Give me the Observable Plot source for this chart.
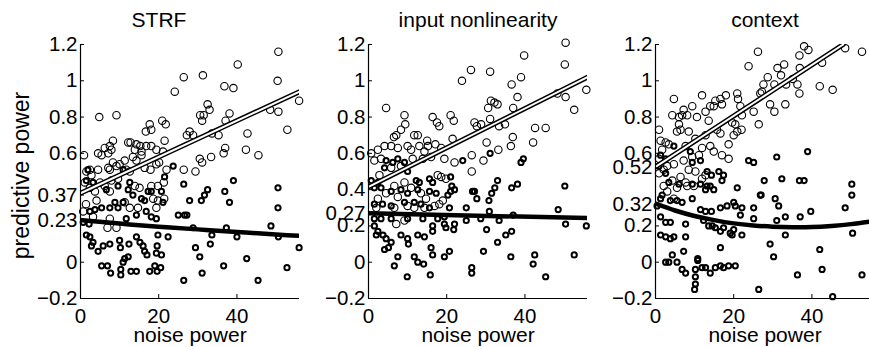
<!DOCTYPE html>
<html><head><meta charset="utf-8">
<script src="https://cdn.jsdelivr.net/npm/d3@7"></script>
<script src="https://cdn.jsdelivr.net/npm/@observablehq/plot@0.6"></script>
<style>
body{margin:0;background:#fff;}
#wrap{position:relative;width:869px;height:347px;overflow:hidden;background:#fff;font-family:"Liberation Sans",Arial,sans-serif;}
.panel{position:absolute;top:0;width:300px;height:347px;}
</style></head><body><div id="wrap"></div>
<script>
// ---- data (x = noise power, y = predictive power) ----
const panelTitles = ["STRF", "input nonlinearity", "context"];
const xTicks = [0, 20, 40];
const strfYTicks = [-0.2, 0, 0.23, 0.37, 0.6, 0.8, 1, 1.2];
const inlYTicks = [-0.2, 0, 0.2, 0.27, 0.4, 0.6, 0.8, 1, 1.2];
const ctxYTicks = [-0.2, 0, 0.2, 0.32, 0.52, 0.6, 0.8, 1, 1.2];

const strfOpen = [[26.4,1.02],[24.1,0.94],[4.8,0.80],[9.2,0.81],[17.7,0.76],[18.1,0.73],[16.7,0.72],[20.9,0.78],[21.8,0.76],[12.2,0.66],[12.8,0.66],[14.3,0.65],[15.3,0.64],[15.6,0.61],[13.9,0.62],[8.3,0.67],[7.5,0.64],[6.2,0.63],[4.5,0.60],[5.4,0.59],[7.1,0.60],[0.9,0.59],[7.9,0.62],[16.8,0.64],[18.1,0.64],[19.4,0.62],[21.5,0.67],[21.1,0.61],[15.6,0.59],[14.3,0.56],[13.4,0.58],[11.3,0.56],[10.0,0.54],[8.3,0.55],[7.1,0.52],[7.5,0.51],[4.5,0.51],[2.4,0.51],[1.5,0.50],[2.8,0.48],[9.2,0.53],[11.7,0.51],[16.4,0.52],[17.9,0.51],[19.4,0.54],[20.1,0.55],[22.0,0.51],[12.6,0.50],[1.1,0.44],[5.0,0.44],[7.9,0.45],[9.6,0.46],[13.9,0.42],[15.1,0.41],[18.1,0.42],[19.8,0.42],[21.3,0.44],[18.6,0.35],[19.8,0.34],[2.4,0.41],[3.7,0.39],[6.2,0.42],[7.5,0.39],[4.1,0.34],[1.4,0.32],[11.3,0.33],[12.6,0.30],[14.7,0.30],[7.5,0.24],[3.2,0.25],[0.7,0.28],[6.9,0.19],[9.2,0.19],[19.4,0.30],[21.4,0.35],
  [50.6,1.16],[40.2,1.09],[31.3,1.03],[36.8,0.97],[39.1,0.96],[50.4,1.00],[55.9,0.89],[48.5,0.84],[50.6,0.83],[52.9,0.73],[32.5,0.87],[33.0,0.84],[30.6,0.81],[31.5,0.81],[31.1,0.78],[38.1,0.82],[37.1,0.78],[27.9,0.72],[27.2,0.70],[28.8,0.70],[33.6,0.71],[35.3,0.70],[42.7,0.71],[37.0,0.63],[36.6,0.60],[42.3,0.62],[45.5,0.59],[30.5,0.57],[31.1,0.55],[33.4,0.58],[26.4,0.51],[29.4,0.50]];
const strfBold = [[1.9,0.51],[1.5,0.45],[3.2,0.44],[6.6,0.40],[9.6,0.42],[10.9,0.51],[12.6,0.44],[12.2,0.40],[13.4,0.37],[15.6,0.35],[16.4,0.34],[17.3,0.39],[18.1,0.39],[20.7,0.39],[21.1,0.33],[16.8,0.28],[18.1,0.25],[19.4,0.24],[14.3,0.26],[10.9,0.33],[8.8,0.33],[7.5,0.30],[5.4,0.30],[3.7,0.29],[2.4,0.28],[0.7,0.22],[2.2,0.21],[9.6,0.30],[11.7,0.24],[1.5,0.15],[2.4,0.14],[3.2,0.11],[2.8,0.09],[4.5,0.06],[5.8,0.09],[7.5,0.10],[10.0,0.12],[10.2,0.08],[12.4,0.10],[14.3,0.14],[15.2,0.11],[16.0,0.09],[16.4,0.06],[17.0,0.04],[19.6,0.09],[19.4,0.05],[20.7,0.04],[11.3,0.02],[10.9,0.00],[12.2,0.03],[5.4,-0.02],[6.9,-0.02],[7.7,-0.06],[10.3,-0.04],[10.3,-0.07],[12.9,-0.05],[14.3,-0.05],[17.7,-0.05],[19.0,-0.02],[19.6,-0.05],[20.5,-0.03],[26.4,-0.10],[23.7,0.53],[26.4,0.43],[21.5,0.47],[25.0,0.26],[26.6,0.26],[22.4,0.14],[19.8,0.15],
  [27.9,0.34],[30.9,0.34],[31.7,0.37],[32.5,0.40],[36.9,0.39],[38.1,0.33],[39.1,0.45],[50.5,0.41],[50.5,0.30],[27.2,0.26],[28.8,0.19],[33.6,0.15],[37.3,0.19],[40.0,0.14],[48.7,0.20],[50.6,0.14],[55.9,0.08],[29.4,0.08],[30.5,0.03],[33.2,0.10],[36.6,-0.02],[42.5,0.02],[31.1,-0.06],[45.4,-0.10],[52.8,-0.03]];
const strfUpperFit = [[0,0.38],[56,0.94]];
const strfLowerFit = [[0,0.232],[10,0.213],[20,0.196],[30,0.181],[40,0.167],[50,0.153],[56,0.146]];

const inlOpen = [[26.2,1.06],[23.9,1.00],[4.5,0.85],[9.2,0.81],[9.4,0.76],[16.4,0.80],[17.5,0.77],[18.1,0.75],[21.0,0.81],[21.8,0.78],[8.3,0.73],[7.1,0.70],[6.5,0.69],[11.7,0.70],[12.6,0.70],[15.0,0.67],[15.2,0.64],[17.1,0.65],[21.5,0.68],[4.1,0.64],[5.8,0.64],[7.5,0.63],[0.7,0.60],[2.4,0.62],[1.5,0.56],[3.2,0.57],[10.0,0.64],[10.9,0.62],[13.0,0.64],[14.3,0.61],[13.9,0.57],[11.3,0.57],[16.0,0.58],[18.6,0.63],[19.4,0.57],[22.0,0.55],[26.4,0.59],[26.4,0.50],[8.3,0.53],[5.8,0.52],[2.8,0.48],[17.7,0.48],[18.6,0.47],[19.8,0.46],[9.2,0.44],[6.6,0.42],[10.9,0.41],[13.4,0.38],[14.7,0.35],[4.5,0.38],[2.4,0.35],[7.5,0.36],[10.0,0.31],[16.9,0.31],[18.1,0.32],[19.0,0.34],[6.6,0.30],[11.7,0.30],[14.3,0.30],[7.1,0.21],[9.2,0.23],[2.0,0.30],
  [50.4,1.21],[39.8,1.14],[50.2,1.09],[31.1,1.05],[36.6,0.98],[39.0,1.02],[38.1,0.91],[37.0,0.85],[55.7,0.95],[48.3,0.93],[50.4,0.91],[52.6,0.84],[31.3,0.89],[32.2,0.88],[33.0,0.87],[30.6,0.85],[31.1,0.79],[27.1,0.77],[27.7,0.75],[28.8,0.76],[33.4,0.75],[34.9,0.76],[42.6,0.74],[45.3,0.74],[36.9,0.69],[36.4,0.64],[42.1,0.66],[30.2,0.66],[33.2,0.62],[29.4,0.56]];
const inlBold = [[0.7,0.45],[2.4,0.44],[4.1,0.52],[4.5,0.56],[6.2,0.55],[7.5,0.57],[9.2,0.55],[10.0,0.50],[12.2,0.45],[13.0,0.44],[15.6,0.46],[16.4,0.44],[21.0,0.47],[21.3,0.42],[21.0,0.39],[22.0,0.40],[24.1,0.56],[26.6,0.39],[1.5,0.41],[3.2,0.41],[5.8,0.39],[8.3,0.40],[10.0,0.38],[12.6,0.40],[11.7,0.33],[15.6,0.39],[17.3,0.38],[20.3,0.37],[1.5,0.32],[3.6,0.32],[5.8,0.31],[9.2,0.33],[13.4,0.32],[15.6,0.30],[20.7,0.30],[25.0,0.30],[1.5,0.24],[3.2,0.24],[5.8,0.24],[10.0,0.24],[13.9,0.24],[17.7,0.24],[19.4,0.25],[25.0,0.23],[1.5,0.20],[2.4,0.17],[2.0,0.15],[3.7,0.15],[4.5,0.13],[5.8,0.11],[8.3,0.15],[10.0,0.13],[10.2,0.10],[12.6,0.15],[14.3,0.14],[16.4,0.20],[16.4,0.17],[19.4,0.21],[19.8,0.19],[21.8,0.18],[22.0,0.21],[4.1,0.07],[5.1,0.08],[7.5,0.03],[6.6,-0.02],[11.7,0.03],[12.6,0.00],[14.1,-0.01],[16.0,0.08],[16.4,0.04],[19.4,0.03],[20.7,0.06],[9.9,-0.08],[15.8,-0.07],[26.4,-0.03],[26.4,-0.06],
  [31.1,0.60],[39.0,0.55],[39.6,0.57],[50.2,0.42],[33.0,0.45],[32.3,0.41],[31.5,0.38],[27.1,0.39],[27.7,0.35],[30.8,0.34],[36.6,0.41],[38.1,0.43],[30.9,0.28],[48.5,0.29],[50.4,0.21],[55.7,0.20],[28.7,0.24],[33.4,0.23],[37.0,0.26],[30.2,0.18],[35.1,0.15],[36.6,0.17],[33.0,0.11],[29.4,0.06],[36.4,0.03],[42.5,0.04],[42.1,-0.01],[52.6,0.04],[45.3,-0.08]];
const inlUpperFit = [[0,0.415],[56,1.02]];
const inlLowerFit = [[0,0.27],[56,0.243]];

const ctxOpen = [[26.2,1.16],[23.8,1.08],[4.7,0.90],[11.9,0.92],[7.2,0.84],[4.3,0.81],[6.0,0.80],[6.8,0.81],[8.1,0.81],[9.4,0.86],[10.6,0.80],[12.8,0.83],[13.6,0.78],[14.0,0.86],[14.9,0.86],[15.3,0.89],[16.6,0.90],[17.0,0.87],[18.0,0.92],[20.9,0.93],[21.1,0.90],[21.7,0.86],[19.6,0.77],[20.4,0.76],[22.1,0.81],[25.1,0.83],[26.4,0.76],[26.8,0.93],[6.0,0.76],[6.4,0.73],[5.5,0.72],[8.5,0.72],[10.2,0.68],[12.8,0.70],[15.7,0.73],[16.6,0.71],[18.7,0.65],[20.0,0.70],[20.9,0.72],[22.0,0.73],[0.9,0.73],[1.3,0.67],[2.6,0.66],[3.4,0.65],[1.7,0.62],[0.9,0.57],[7.7,0.64],[11.9,0.63],[14.0,0.64],[14.9,0.61],[17.0,0.59],[18.7,0.57],[9.4,0.58],[11.1,0.59],[7.2,0.56],[4.7,0.54],[3.0,0.53],[2.1,0.51],[0.9,0.49],[8.5,0.51],[10.2,0.50],[12.8,0.48],[6.4,0.47],[4.3,0.45],[2.1,0.42],[7.7,0.44],[8.1,0.42],[9.8,0.42],[5.5,0.41],[3.0,0.39],[4.7,0.35],[11.9,0.46],
  [38.0,1.19],[39.1,1.17],[48.5,1.18],[52.8,1.16],[36.8,1.14],[42.6,1.10],[32.9,1.09],[31.2,1.07],[36.9,1.07],[32.1,1.03],[28.7,1.02],[30.4,0.98],[33.4,0.98],[35.1,1.01],[36.3,0.98],[27.6,0.98],[36.8,0.93],[42.0,0.97],[45.3,0.95],[27.2,0.94],[29.3,0.87],[30.4,0.83],[33.2,0.87]];
const ctxBold = [[1.3,0.59],[2.6,0.57],[4.7,0.64],[8.9,0.61],[9.4,0.55],[11.5,0.56],[13.2,0.50],[14.3,0.48],[16.2,0.50],[17.4,0.48],[23.8,0.56],[25.1,0.55],[0.9,0.53],[2.6,0.49],[3.4,0.44],[6.0,0.43],[9.4,0.43],[11.5,0.43],[13.2,0.42],[12.8,0.40],[14.9,0.40],[17.0,0.45],[14.0,0.42],[1.7,0.37],[1.3,0.35],[3.8,0.34],[5.5,0.34],[6.8,0.33],[9.4,0.35],[20.9,0.41],[26.8,0.37],[0.4,0.31],[11.5,0.29],[12.8,0.28],[14.3,0.28],[16.6,0.30],[18.3,0.31],[20.0,0.33],[20.4,0.31],[21.7,0.26],[22.1,0.30],[25.1,0.30],[25.1,0.24],[1.3,0.25],[2.6,0.22],[3.8,0.22],[7.7,0.21],[12.3,0.23],[13.6,0.20],[14.5,0.20],[15.3,0.19],[16.6,0.17],[17.4,0.19],[19.1,0.16],[20.0,0.18],[19.6,0.15],[22.1,0.15],[1.3,0.15],[2.6,0.14],[3.8,0.13],[4.7,0.14],[7.7,0.14],[2.6,0.00],[3.4,0.00],[4.3,0.04],[5.5,0.00],[7.2,0.06],[6.8,-0.04],[7.7,-0.06],[10.2,-0.04],[10.2,-0.08],[10.2,-0.12],[10.0,-0.15],[10.8,0.02],[10.8,0.01],[11.9,-0.03],[12.8,-0.03],[14.0,-0.06],[15.3,-0.03],[16.6,-0.02],[17.4,-0.03],[18.7,-0.02],[20.4,-0.02],[16.6,0.08],[26.4,-0.15],
  [38.9,0.61],[31.0,0.58],[27.8,0.45],[32.3,0.46],[36.8,0.45],[38.0,0.45],[50.2,0.43],[50.2,0.37],[27.0,0.37],[30.6,0.35],[31.5,0.31],[39.7,0.28],[48.5,0.30],[31.0,0.23],[33.2,0.25],[37.0,0.25],[50.4,0.16],[33.2,0.15],[29.3,0.10],[30.2,0.03],[42.0,0.07],[42.6,-0.04],[36.3,-0.07],[52.8,-0.07],[45.3,-0.19]];
const ctxUpperFit = [[0,0.525],[48,1.2]];
const ctxLowerFit = [[0,0.323],[5,0.285],[10,0.255],[15,0.232],[20,0.214],[25,0.203],[30,0.196],[35,0.193],[40,0.194],[45,0.2],[50,0.21],[56,0.228]];

// ---- drawing ----
const panels = [
  {title: panelTitles[0], open: strfOpen, bold: strfBold, upper: strfUpperFit, lower: strfLowerFit, yTicks: strfYTicks, left: 0, titleDx: -31, ylabel: true},
  {title: panelTitles[1], open: inlOpen, bold: inlBold, upper: inlUpperFit, lower: inlLowerFit, yTicks: inlYTicks, left: 288, titleDx: 0, ylabel: false},
  {title: panelTitles[2], open: ctxOpen, bold: ctxBold, upper: ctxUpperFit, lower: ctxLowerFit, yTicks: ctxYTicks, left: 575, titleDx: 0, ylabel: false}
];
const fmt = d => (d < 0 ? "\u2212" : "") + d3.format("~g")(Math.abs(d));
const X = d => d[0], Y = d => d[1];
const font = "Liberation Sans, Arial, sans-serif";
const wrap = document.getElementById("wrap");
for (const p of panels) {
  const chart = Plot.plot({
    width: 300, height: 347,
    marginLeft: 80, marginRight: 1, marginTop: 44, marginBottom: 49,
    x: {domain: [0, 56]},
    y: {domain: [-0.2, 1.2]},
    style: {background: "transparent", fontFamily: font, overflow: "visible", color: "black"},
    marks: [
      Plot.dot(p.open, {x: X, y: Y, r: 3.7, stroke: "black", strokeWidth: 1.1, fill: "none"}),
      Plot.dot(p.bold, {x: X, y: Y, r: 2.6, stroke: "black", strokeWidth: 2, fill: "none"}),
      Plot.line(p.upper, {x: X, y: Y, stroke: "black", strokeWidth: 5, clip: true}),
      Plot.line(p.upper, {x: X, y: Y, stroke: "white", strokeWidth: 2, clip: true}),
      Plot.line(p.lower, {x: X, y: Y, stroke: "black", strokeWidth: 4.5, curve: "natural", clip: true}),
      Plot.ruleX([0], {stroke: "black", strokeWidth: 1.2}),
      Plot.ruleY([-0.2], {stroke: "black", strokeWidth: 1.2}),
      Plot.axisY(p.yTicks, {tickSize: -4, tickPadding: 7, tickFormat: fmt, fontSize: 20.5, label: null}),
      Plot.axisX(xTicks, {tickSize: -4, tickPadding: 14, tickFormat: fmt, fontSize: 20.5, label: null}),
      Plot.text([p.title], {text: d => d, frameAnchor: "top", dy: -18, dx: p.titleDx, lineAnchor: "bottom", fontSize: 21}),
      Plot.text(["noise power"], {text: d => d, frameAnchor: "bottom", dy: 43, lineAnchor: "bottom", fontSize: 21}),
      p.ylabel ? Plot.text(["predictive power"], {text: d => d, frameAnchor: "left", textAnchor: "middle", dx: -59, dy: 4, rotate: -90, fontSize: 23}) : null
    ]
  });
  const div = document.createElement("div");
  div.className = "panel";
  div.style.left = p.left + "px";
  div.appendChild(chart);
  wrap.appendChild(div);
}
</script>
</body></html>
